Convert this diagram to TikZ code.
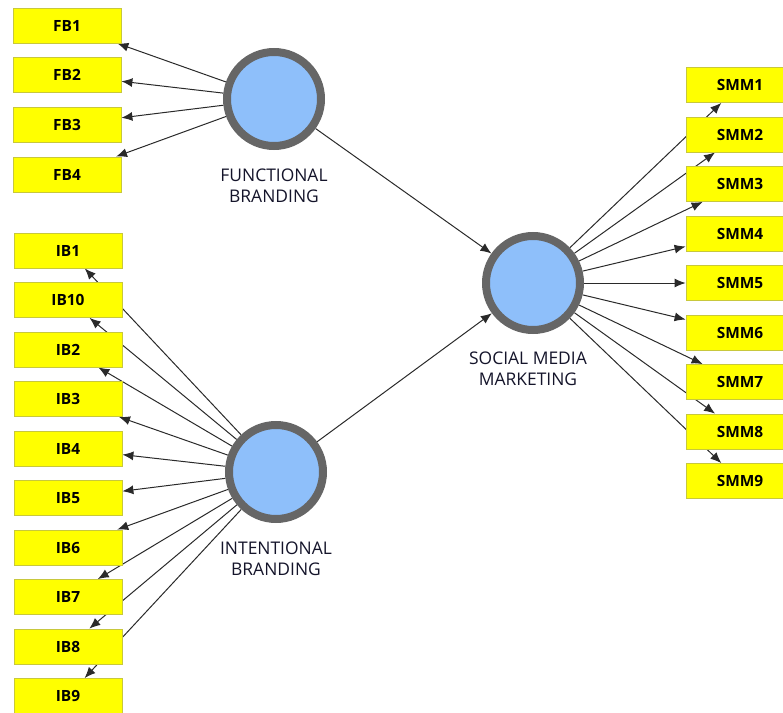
\documentclass[tikz,border=0pt]{standalone}
\usepackage{fontspec}
\setmainfont{Open Sans}
\usetikzlibrary{arrows.meta,backgrounds}
\definecolor{boxyellow}{HTML}{FFFF00}
\definecolor{boxedge}{HTML}{C8C83C}
\definecolor{lvblue}{HTML}{8EBFFA}
\definecolor{ringgray}{HTML}{666666}
\definecolor{linegray}{HTML}{2A2A2A}
\definecolor{labeltext}{HTML}{14142A}
\begin{document}
\begin{tikzpicture}[x=1bp,y=-1bp,
  ind/.style={draw=boxedge, fill=boxyellow, minimum width=108bp, minimum height=35bp,
    inner sep=0pt, line width=0.8bp, font=\bfseries\fontsize{15.5}{17}\selectfont},
  lv/.style={circle, draw=ringgray, fill=lvblue, line width=8bp, minimum size=94bp, inner sep=0pt},
  lvlabel/.style={align=center, inner sep=0pt, font=\fontsize{17.5}{21.5}\selectfont, text=labeltext},
  load/.style={draw=linegray, line width=1bp, -{Latex[length=11bp,width=9bp]}}]
\clip (0,0) rectangle (783,713);
% latent variables
\node[lv] (FB) at (274,99) {};
\node[lv] (IB) at (276,472) {};
\node[lv] (SMM) at (533,283) {};
\node[lvlabel] (FBl) at (274,186) {FUNCTIONAL\\BRANDING};
\node[lvlabel] (IBl) at (276,559) {INTENTIONAL\\BRANDING};
\node[lvlabel] (SMMl) at (528,369) {SOCIAL MEDIA\\MARKETING};
% indicators
\node[ind] (FB1) at (67,25.5) {FB1};
\node[ind] (FB2) at (67,75) {FB2};
\node[ind] (FB3) at (67,124.5) {FB3};
\node[ind] (FB4) at (67,174.5) {FB4};
\node[ind] (IB1) at (68,250.5) {IB1};
\node[ind] (IB10) at (68,300) {IB10};
\node[ind] (IB2) at (68,349.5) {IB2};
\node[ind] (IB3) at (68,399) {IB3};
\node[ind] (IB4) at (68,448.5) {IB4};
\node[ind] (IB5) at (68,498) {IB5};
\node[ind] (IB6) at (68,547.5) {IB6};
\node[ind] (IB7) at (68,597) {IB7};
\node[ind] (IB8) at (68,646.5) {IB8};
\node[ind] (IB9) at (68,696) {IB9};
\node[ind] (SMM1) at (740,85) {SMM1};
\node[ind] (SMM2) at (740,134.5) {SMM2};
\node[ind] (SMM3) at (740,184) {SMM3};
\node[ind] (SMM4) at (740,233.5) {SMM4};
\node[ind] (SMM5) at (740,283) {SMM5};
\node[ind] (SMM6) at (740,332.5) {SMM6};
\node[ind] (SMM7) at (740,382) {SMM7};
\node[ind] (SMM8) at (740,431.5) {SMM8};
\node[ind] (SMM9) at (740,481) {SMM9};
\begin{scope}[on background layer]
  \foreach \t in {FB1,FB2,FB3,FB4} \draw[load] (FB) -- (\t);
  \foreach \t in {IB1,IB10,IB2,IB3,IB4,IB5,IB6,IB7,IB8,IB9} \draw[load] (IB) -- (\t);
  \foreach \t in {SMM1,SMM2,SMM3,SMM4,SMM5,SMM6,SMM7,SMM8,SMM9} \draw[load] (SMM) -- (\t);
  \draw[load] (FB) -- (SMM);
  \draw[load] (IB) -- (SMM);
\end{scope}
\end{tikzpicture}
\end{document}
